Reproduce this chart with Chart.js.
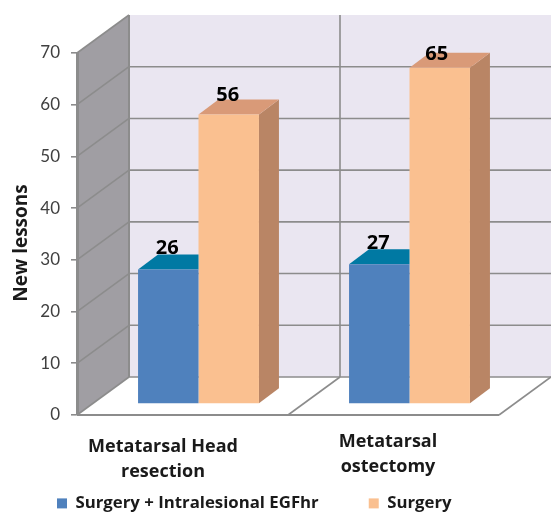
<!DOCTYPE html>
<html>
<head>
<meta charset="utf-8">
<script src="https://cdn.jsdelivr.net/npm/chart.js@4"></script>
<style>
    html, body { margin: 0; padding: 0; background: #fff; }
    canvas { display: block; }
</style>
</head>
<body>
<canvas id="chart" width="551" height="512"></canvas>
<script>
const categories = [["Metatarsal Head", "resection"], ["Metatarsal", "ostectomy"]];
const seriesNames = ["Surgery + Intralesional EGFhr", "Surgery"];
const egfValues = [26, 27];
const surgeryValues = [56, 65];
const tickValues = [0, 10, 20, 30, 40, 50, 60, 70];

// fake 3D offsets, the picture is a flat chart with walls behind it
const wallDepth = { x: 52, y: -38 };
const barShift = { x: 16, y: -11 };
const barDepth = { x: 20, y: -15 };
const frontColors = ["#4f81bd", "#fac090"];
const topColors = ["#0079a3", "#d99a78"];
const sideColors = [null, "#b98565"];
const lineColor = "#8c8c8c";
const boldFont = "'Open Sans'";

function poly(ctx, points, fill, stroke, width) {
    ctx.beginPath();
    points.forEach((p, i) => (i ? ctx.lineTo(p[0], p[1]) : ctx.moveTo(p[0], p[1])));
    ctx.closePath();
    if (fill) {
        ctx.fillStyle = fill;
        ctx.fill();
    }
    if (stroke) {
        ctx.strokeStyle = stroke;
        ctx.lineWidth = width;
        ctx.stroke();
    }
}

function line(ctx, x1, y1, x2, y2, color, width) {
    ctx.beginPath();
    ctx.moveTo(x1, y1);
    ctx.lineTo(x2, y2);
    ctx.strokeStyle = color;
    ctx.lineWidth = width;
    ctx.stroke();
}

const fake3d = {
    id: "fake3d",
    // legend goes where the reference has it
    afterLayout(chart) {
        let pad = chart.legend.options.labels.padding;
        chart.legend.left = 57 - pad;
        chart.legend.top = 495 - pad;
    },
    beforeDraw(chart) {
        const ctx = chart.ctx;
        const y = chart.scales.y;
        const x = chart.scales.x;
        const a = chart.chartArea;
        const dx = wallDepth.x;
        const dy = wallDepth.y;

        poly(ctx, [[a.left, a.top], [a.left + dx, a.top + dy], [a.right + dx, a.top + dy], [a.right + dx, a.bottom + dy], [a.left + dx, a.bottom + dy]], "#eae6f1");
        poly(ctx, [[a.left, a.top], [a.left + dx, a.top + dy], [a.left + dx, a.bottom + dy], [a.left, a.bottom]], "#a09ea3");
        poly(ctx, [[a.left, a.bottom], [a.left + dx, a.bottom + dy], [a.right + dx, a.bottom + dy], [a.right, a.bottom]], "#ffffff");

        // grid lines along the back wall and the left wall
        tickValues.forEach((v) => {
            let py = y.getPixelForValue(v);
            if (v < 70) {
                line(ctx, a.left + dx, py + dy, a.right + dx, py + dy, lineColor, 1.6);
            }
            line(ctx, a.left, py, a.left + dx, py + dy, lineColor, 1.6);
        });
        line(ctx, a.left + dx, a.top + dy, a.left + dx, a.bottom + dy, lineColor, 2);

        // category dividers on the floor and the back wall
        let mid = a.left + (x.getPixelForTick(1) - x.getPixelForTick(0));
        line(ctx, mid, a.bottom, mid + dx, a.bottom + dy, lineColor, 1.6);
        line(ctx, mid + dx, a.top + dy, mid + dx, a.bottom + dy, lineColor, 1.6);
        line(ctx, a.left, a.bottom, a.right, a.bottom, lineColor, 2);
        line(ctx, a.right, a.bottom, a.right + dx, a.bottom + dy, lineColor, 1.6);
    },
    beforeDatasetDraw(chart, args) {
        const ctx = chart.ctx;
        ctx.save();
        ctx.translate(barShift.x, barShift.y);
        const i = args.index;
        args.meta.data.forEach((bar) => {
            let l = bar.x - bar.width / 2;
            let r = bar.x + bar.width / 2;
            let dx = barDepth.x;
            let dy = barDepth.y;
            // only the last bar of a group shows its side, the neighbour hides the rest
            if (sideColors[i]) {
                poly(ctx, [[r, bar.y], [r + dx, bar.y + dy], [r + dx, bar.base + dy], [r, bar.base]], sideColors[i]);
                poly(ctx, [[l, bar.y], [l + dx, bar.y + dy], [r + dx, bar.y + dy], [r, bar.y]], topColors[i]);
            } else {
                poly(ctx, [[l, bar.y], [l + dx, bar.y + dy], [r, bar.y + dy], [r, bar.y]], topColors[i]);
            }
        });
    },
    afterDatasetDraw(chart) {
        chart.ctx.restore();
    },
    afterDraw(chart) {
        const ctx = chart.ctx;
        const x = chart.scales.x;
        ctx.save();
        ctx.textBaseline = "middle";
        ctx.textAlign = "center";

        // value labels above the bars
        ctx.fillStyle = "#000";
        ctx.font = "bold 20px " + boldFont;
        chart.data.datasets.forEach((ds, i) => {
            chart.getDatasetMeta(i).data.forEach((bar, j) => {
                let over = j === 1 && i === 1 ? 14 : i === 1 ? 19 : 21;
                let nudge = j === 1 && i === 1 ? -3 : -1;
                ctx.fillText(ds.data[j], bar.x + barShift.x + nudge, bar.y + barShift.y - over);
            });
        });

        // category labels, they do not sit on the same line in the reference
        const labelShift = [[-19.5, 32], [-5.5, 27]];
        ctx.fillStyle = "#1a1a1a";
        ctx.font = "bold 18px " + boldFont;
        categories.forEach((lines, i) => {
            lines.forEach((text, k) => {
                ctx.fillText(text, x.getPixelForTick(i) + labelShift[i][0], chart.chartArea.bottom + labelShift[i][1] + k * 25);
            });
        });

        // axis title
        ctx.font = "bold 19px " + boldFont;
        ctx.translate(22, 243);
        ctx.rotate(-Math.PI / 2);
        ctx.fillText("New lessons", 0, 0);
        ctx.restore();
    }
};

new Chart(document.getElementById("chart").getContext("2d"), {
    type: "bar",
    plugins: [fake3d],
    data: {
        labels: categories,
        datasets: [
            { label: seriesNames[0], data: egfValues, backgroundColor: frontColors[0], borderWidth: 0 },
            { label: seriesNames[1], data: surgeryValues, backgroundColor: frontColors[1], borderWidth: 0 }
        ]
    },
    options: {
        responsive: false,
        animation: false,
        layout: { padding: { top: 53, right: 0, left: 0, bottom: -20 } },
        datasets: { bar: { barPercentage: 1, categoryPercentage: 0.573 } },
        plugins: {
            tooltip: { enabled: false },
            legend: {
                position: "bottom",
                align: "start",
                labels: {
                    boxWidth: 10,
                    boxHeight: 10,
                    padding: 50,
                    color: "#1a1a1a",
                    font: { family: boldFont, size: 16.8, weight: "bold" }
                }
            }
        },
        scales: {
            x: {
                grid: { display: false },
                border: { display: false },
                ticks: { display: false },
                afterFit(scale) {
                    scale.height = 117 - scale.chart.legend.height;
                }
            },
            y: {
                min: 0,
                max: 70,
                afterBuildTicks(scale) {
                    scale.ticks = tickValues.map((v) => ({ value: v }));
                },
                afterFit(scale) {
                    scale.width = 77;
                },
                grid: { drawOnChartArea: false, tickLength: 6, color: lineColor, lineWidth: 1.6 },
                border: { color: lineColor, width: 3 },
                ticks: {
                    padding: 11,
                    color: "#404040",
                    font: { family: "Lato", size: 17 }
                }
            },
            // empty axis, leaves room on the right for the wall depth and keeps the legend on one row
            spacer: {
                position: "right",
                grid: { display: false },
                border: { display: false },
                ticks: { display: false },
                afterFit(scale) {
                    scale.width = 52;
                }
            }
        }
    }
});
</script>
</body>
</html>
